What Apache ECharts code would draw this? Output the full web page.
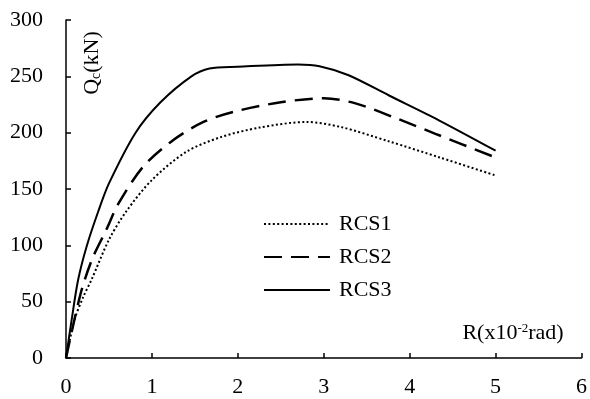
<!DOCTYPE html>
<html>
<head>
<meta charset="utf-8">
<script src="https://cdn.jsdelivr.net/npm/echarts@6/dist/echarts.min.js"></script>
<style>
html,body{margin:0;padding:0;background:#fff;}
#c{width:590px;height:399px;}
</style>
</head>
<body>
<div id="c"></div>
<script>
const xTicks = [0, 1, 2, 3, 4, 5, 6];
const yTicks = [0, 50, 100, 150, 200, 250, 300];

const rcs1X = [0, 0.1, 0.2, 0.3, 0.5, 0.7, 1.0, 1.4, 1.8, 2.25, 2.8, 3.2, 3.75, 4.35, 5.0];
const rcs1Y = [0, 34, 54, 70, 105, 130, 158, 183, 196, 204.5, 209.5, 205, 192.5, 178, 162];

const rcs2X = [0, 0.17, 0.3, 0.47, 0.61, 0.9, 1.25, 1.6, 1.95, 2.5, 3.0, 3.37, 3.87, 4.3, 5.0];
const rcs2Y = [0, 57, 87, 114, 137, 170, 193.5, 209.5, 218.5, 227, 230.5, 226, 212, 199, 178];

const rcs3X = [0, 0.066, 0.14, 0.24, 0.375, 0.5, 0.81, 1.1, 1.46, 1.67, 2.0, 2.7, 2.95, 3.29, 3.76, 4.34, 5.0];
const rcs3Y = [0, 34, 69, 99, 130, 155, 200, 227, 250, 257, 258.5, 260.5, 259, 251, 233, 211, 184];

const names = ['RCS1', 'RCS2', 'RCS3'];

function pairs(xs, ys) { return xs.map((x, i) => [x, ys[i]]); }

const FONT = 'Liberation Serif';
const FS = 22;
const chart = echarts.init(document.getElementById('c'));

const series = [
  { name: names[0], data: pairs(rcs1X, rcs1Y), lineStyle: { type: [2, 2.4], width: 2 } },
  { name: names[1], data: pairs(rcs2X, rcs2Y), lineStyle: { type: [18, 9], width: 2.5 } },
  { name: names[2], data: pairs(rcs3X, rcs3Y), lineStyle: { type: 'solid', width: 2 } }
].map(s => Object.assign({
  type: 'line', smooth: 0.3, symbol: 'none', showSymbol: false,
  itemStyle: { color: '#000' }, animation: false
}, s, { lineStyle: Object.assign({ color: '#000' }, s.lineStyle) }));

const axisCommon = {
  axisLine: { show: true, lineStyle: { color: '#000', width: 1.5 } },
  axisTick: { show: true, inside: true, length: 5, lineStyle: { color: '#000', width: 1.5 } },
  splitLine: { show: false },
  axisLabel: { color: '#000', fontFamily: FONT, fontSize: FS }
};

chart.setOption({
  animation: false,
  backgroundColor: '#fff',
  grid: { left: 66, right: 7, top: 20, bottom: 41, containLabel: false },
  xAxis: Object.assign({}, axisCommon, {
    type: 'value', min: xTicks[0], max: xTicks[xTicks.length - 1], interval: 1,
    axisLabel: Object.assign({}, axisCommon.axisLabel, { margin: 18 })
  }),
  yAxis: Object.assign({}, axisCommon, {
    type: 'value', min: yTicks[0], max: yTicks[yTicks.length - 1], interval: 50,
    axisLabel: Object.assign({}, axisCommon.axisLabel, { margin: 23 })
  }),
  legend: {
    orient: 'vertical', left: 263, top: 213, padding: 0,
    itemWidth: 66, itemHeight: 14, itemGap: 11,
    itemStyle: { opacity: 0 },
    textStyle: { color: '#000', fontFamily: FONT, fontSize: FS, padding: [0, 0, 0, 4] },
    data: names
  },
  graphic: [
    {
      type: 'group', x: 92, y: 63, rotation: Math.PI / 2,
      children: [{
        type: 'text', x: 0, y: 0,
        style: {
          text: '{a|Q}{s|c}{a|(kN)}', align: 'center', verticalAlign: 'middle',
          rich: {
            a: { fontFamily: FONT, fontSize: FS, fill: '#000', color: '#000' },
            s: { fontFamily: FONT, fontSize: 14, fill: '#000', color: '#000', verticalAlign: 'bottom', padding: [9, 0, 0, 0] }
          }
        }
      }]
    },
    {
      type: 'text', x: 513, y: 333,
      style: {
        text: '{a|R(x10}{s|-2}{a|rad)}', align: 'center', verticalAlign: 'middle',
        rich: {
          a: { fontFamily: FONT, fontSize: FS, fill: '#000', color: '#000' },
          s: { fontFamily: FONT, fontSize: 13, fill: '#000', color: '#000', verticalAlign: 'top', padding: [0, 0, 9, 0] }
        }
      }
    }
  ],
  series: series
});
</script>
</body>
</html>
